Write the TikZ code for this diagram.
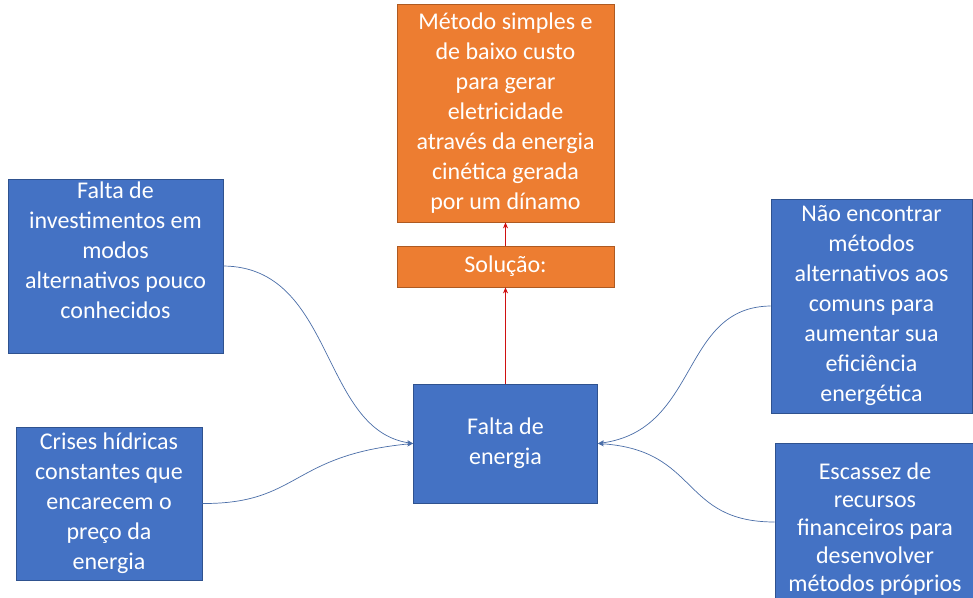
\documentclass[tikz,border=0pt]{standalone}
\usepackage{fontspec}
\setmainfont{Carlito}
\usetikzlibrary{arrows.meta}
\definecolor{boxblue}{HTML}{4472C4}
\definecolor{blueline}{HTML}{2F528F}
\definecolor{boxorange}{HTML}{ED7D31}
\definecolor{orangeline}{HTML}{AE5A21}
\definecolor{linkblue}{HTML}{4A6EA8}
\definecolor{linkred}{HTML}{D01010}
\begin{document}
\begin{tikzpicture}[x=1pt,y=-1pt,
  every node/.style={font=\fontsize{24}{30}\selectfont, text=white, align=center, inner sep=0pt},
  causa/.style={draw=blueline, fill=boxblue, line width=0.8pt},
  solbox/.style={draw=orangeline, fill=boxorange, line width=0.8pt},
  elo/.style={linkblue, line width=0.7pt, -{Stealth[length=6pt,width=5pt]}},
  elored/.style={linkred, line width=0.8pt, -{Stealth[length=6pt,width=5pt]}}]
\clip (0,0) rectangle (973,597);
\fill[white] (0,0) rectangle (973,597);
\node[solbox, minimum width=217pt, minimum height=218pt] (metodo) at (505.5,113)
  {Método simples e\\de baixo custo\\para gerar\\eletricidade\\através da energia\\cinética gerada\\por um dínamo};
\node[solbox, minimum width=217pt, minimum height=41pt] (solucao) at (505.5,266.5) {Solução:};
\node[causa, minimum width=184pt, minimum height=119pt] (energia) at (505.5,443.5) {Falta de\\energia};
\node[causa, minimum width=215pt, minimum height=174pt,
  label={[yshift=16pt]center:{Falta de\\investimentos em\\modos\\alternativos pouco\\conhecidos}}] (invest) at (115.5,266) {};
\node[causa, minimum width=186pt, minimum height=153pt] (crises) at (109,503.5)
  {Crises hídricas\\constantes que\\encarecem o\\preço da\\energia};
\node[causa, minimum width=201pt, minimum height=214pt] (metodos) at (871.5,306)
  {Não encontrar\\métodos\\alternativos aos\\comuns para\\aumentar sua\\eficiência\\energética};
\node[causa, minimum width=200pt, minimum height=158pt,
  label={[yshift=-7pt, font=\fontsize{24}{28}\selectfont]center:{Escassez de\\recursos\\financeiros para\\desenvolver\\métodos próprios}}] (escassez) at (875,522) {};
\draw[elored] (energia.north) -- (solucao.south);
\draw[elored] (solucao.north) -- (metodo.south);
\draw[elo] (invest.east) .. controls (335,267) and (320,430) .. (energia.west);
\draw[elo] (crises.east) .. controls (300,504) and (290,455) .. (energia.west);
\draw[elo] (metodos.west) .. controls (680,307) and (700,430) .. (energia.east);
\draw[elo] (escassez.west) .. controls (680,522) and (700,450) .. (energia.east);
\end{tikzpicture}
\end{document}
